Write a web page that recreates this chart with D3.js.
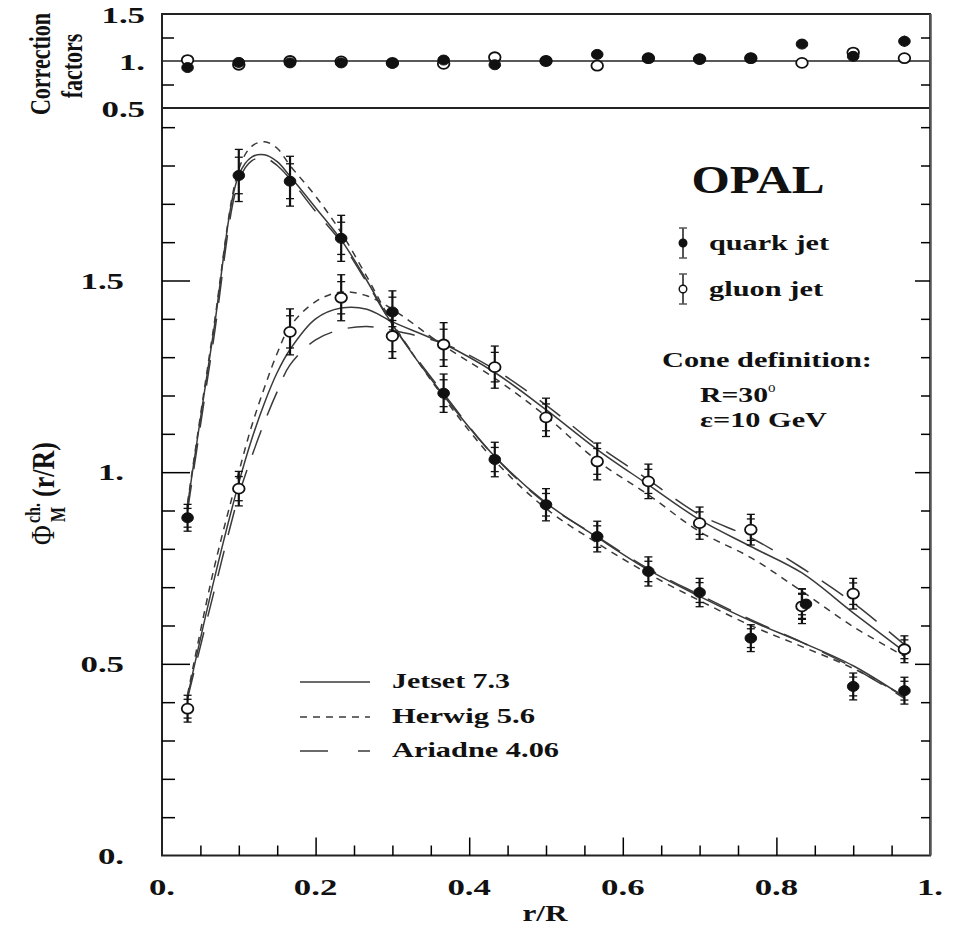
<!DOCTYPE html>
<html>
<head>
<meta charset="utf-8">
<script src="https://cdn.jsdelivr.net/npm/d3@7"></script>
<style>
body { margin: 0; background: #fff; }
text { font-family: "Liberation Serif", "DejaVu Serif", serif; font-weight: bold; fill: #111; }
</style>
</head>
<body>
<div id="chart"></div>
<script>
// bin centres in r/R
var binX = [0.0333, 0.1, 0.1667, 0.2333, 0.3, 0.3667, 0.4333, 0.5, 0.5667, 0.6333, 0.7, 0.7667, 0.8333, 0.9, 0.9667];

// measured points
var quarkVal = [0.881, 1.774, 1.759, 1.610, 1.418, 1.206, 1.033, 0.915, 0.832, 0.741, 0.686, 0.567, 0.656, 0.441, 0.430];
var quarkErr = [0.035, 0.068, 0.065, 0.060, 0.055, 0.050, 0.045, 0.042, 0.040, 0.038, 0.037, 0.035, 0.040, 0.035, 0.035];
var gluonVal = [0.383, 0.957, 1.366, 1.455, 1.355, 1.333, 1.274, 1.143, 1.028, 0.976, 0.867, 0.850, 0.650, 0.683, 0.538];
var gluonErr = [0.035, 0.045, 0.060, 0.060, 0.058, 0.057, 0.055, 0.050, 0.048, 0.045, 0.042, 0.040, 0.045, 0.040, 0.035];

// correction factors (top panel)
var quarkCorr = [0.93, 0.985, 0.98, 0.98, 0.975, 1.01, 0.96, 1.0, 1.07, 1.03, 1.02, 1.03, 1.18, 1.05, 1.21];
var quarkCorrErr = [0, 0, 0, 0, 0, 0, 0, 0, 0, 0, 0, 0, 0.05, 0, 0.06];
var gluonCorr = [1.01, 0.96, 1.0, 0.995, 0.98, 0.97, 1.04, 1.0, 0.95, 1.03, 1.02, 1.03, 0.98, 1.09, 1.03];

// model curves
var curveX = [0.0333, 0.0667, 0.1, 0.1167, 0.1333, 0.15, 0.1667, 0.2, 0.2333, 0.2667, 0.3, 0.3667, 0.4333, 0.5, 0.5667, 0.6333, 0.7, 0.7667, 0.8333, 0.9, 0.9667];
var jetsetQuark  = [0.915, 1.36, 1.775, 1.822, 1.828, 1.81, 1.772, 1.69, 1.606, 1.50, 1.385, 1.20, 1.041, 0.92, 0.83, 0.745, 0.676, 0.612, 0.556, 0.495, 0.413];
var herwigQuark  = [0.92, 1.37, 1.79, 1.85, 1.862, 1.845, 1.80, 1.72, 1.625, 1.51, 1.39, 1.195, 1.03, 0.905, 0.815, 0.735, 0.665, 0.60, 0.545, 0.488, 0.415];
var ariadneQuark = [0.90, 1.34, 1.76, 1.812, 1.82, 1.80, 1.765, 1.68, 1.60, 1.495, 1.385, 1.205, 1.04, 0.918, 0.832, 0.748, 0.68, 0.615, 0.556, 0.49, 0.41];
var jetsetGluon  = [0.415, 0.71, 0.972, 1.085, 1.18, 1.26, 1.32, 1.40, 1.428, 1.425, 1.392, 1.335, 1.26, 1.163, 1.059, 0.967, 0.876, 0.806, 0.737, 0.633, 0.532];
var herwigGluon  = [0.42, 0.74, 1.0, 1.12, 1.22, 1.31, 1.38, 1.445, 1.47, 1.46, 1.425, 1.33, 1.245, 1.146, 1.03, 0.941, 0.845, 0.777, 0.689, 0.597, 0.52];
var ariadneGluon = [0.41, 0.68, 0.94, 1.04, 1.13, 1.21, 1.28, 1.345, 1.372, 1.38, 1.37, 1.335, 1.268, 1.175, 1.07, 0.98, 0.889, 0.829, 0.75, 0.659, 0.55];

var models = ["Jetset 7.3", "Herwig 5.6", "Ariadne 4.06"];
var dashes = [null, "7,6", "26,16"];

var width = 959, height = 929;
var svg = d3.select("#chart").append("svg")
    .attr("width", width)
    .attr("height", height);

var x = d3.scaleLinear().domain([0, 1]).range([162, 930]);
var y = d3.scaleLinear().domain([0, 1.95]).range([855.5, 108]);
var yc = d3.scaleLinear().domain([0.5, 1.5]).range([108, 14]);

function fmt(d) {
    return Math.abs(d % 1) < 1e-9 ? d3.format(".0f")(d) + "." : d3.format(".1f")(d);
}

// widen glyphs like in the scanned figure
function stretch(sel, k) {
    sel.each(function () {
        var w = this.getComputedTextLength();
        d3.select(this).attr("textLength", w * k).attr("lengthAdjust", "spacingAndGlyphs");
    });
}

//Model curves
var line = d3.line()
    .x(function (d) { return x(d[0]); })
    .y(function (d) { return y(d[1]); })
    .curve(d3.curveCatmullRom.alpha(0.5));

var curveSets = [
    [jetsetQuark, herwigQuark, ariadneQuark],
    [jetsetGluon, herwigGluon, ariadneGluon]
];
curveSets.forEach(function (set) {
    set.forEach(function (vals, i) {
        svg.append("path")
            .attr("d", line(curveX.map(function (c, j) { return [c, vals[j]]; })))
            .attr("fill", "none")
            .attr("stroke", "#3a3a3a")
            .attr("stroke-width", 1.5)
            .attr("stroke-dasharray", dashes[i]);
    });
});

//Error bars: outer caps at total error, inner caps at a smaller stat error
function errorBars(vals, errs, dx) {
    var g = svg.append("g").attr("stroke", "#111");
    binX.forEach(function (bx, i) {
        var cx = x(bx) + dx, v = vals[i], e = errs[i];
        g.append("line").attr("x1", cx).attr("x2", cx)
            .attr("y1", y(v - e)).attr("y2", y(v + e)).attr("stroke-width", 2.2);
        [v - e, v + e, v - e * 0.7, v + e * 0.7].forEach(function (t) {
            g.append("line").attr("x1", cx - 4).attr("x2", cx + 4)
                .attr("y1", y(t)).attr("y2", y(t)).attr("stroke-width", 1.3);
        });
    });
}
errorBars(gluonVal, gluonErr, 0);
errorBars(quarkVal, quarkErr, 0);

function points(vals, xs, ys, filled, dx) {
    svg.append("g").selectAll("ellipse")
        .data(vals)
        .enter()
        .append("ellipse")
        .attr("cx", function (d, i) { return xs(binX[i]) + (dx ? dx[i] : 0); })
        .attr("cy", function (d) { return ys(d); })
        .attr("rx", 5.8)
        .attr("ry", 5)
        .attr("fill", filled ? "#111" : "#fff")
        .attr("stroke", "#111")
        .attr("stroke-width", filled ? 1 : 1.8);
}
var quarkShift = binX.map(function (d, i) { return i === 12 ? 4 : 0; });
points(gluonVal, x, y, false, null);
points(quarkVal, x, y, true, quarkShift);

//Top panel: correction factors
svg.append("line")
    .attr("x1", x(0)).attr("x2", x(1))
    .attr("y1", yc(1)).attr("y2", yc(1))
    .attr("stroke", "#222").attr("stroke-width", 1.6);
binX.forEach(function (bx, i) {
    if (quarkCorrErr[i] > 0) {
        svg.append("line")
            .attr("x1", x(bx)).attr("x2", x(bx))
            .attr("y1", yc(quarkCorr[i] - quarkCorrErr[i]))
            .attr("y2", yc(quarkCorr[i] + quarkCorrErr[i]))
            .attr("stroke", "#111").attr("stroke-width", 1.5);
    }
});
points(gluonCorr, x, yc, false, null);
points(quarkCorr, x, yc, true, null);

//Frames
svg.append("rect")
    .attr("x", x(0)).attr("y", yc(1.5))
    .attr("width", x(1) - x(0)).attr("height", yc(0.5) - yc(1.5))
    .attr("fill", "none").attr("stroke", "#222").attr("stroke-width", 2);
svg.append("rect")
    .attr("x", x(0)).attr("y", y(1.95))
    .attr("width", x(1) - x(0)).attr("height", y(0) - y(1.95))
    .attr("fill", "none").attr("stroke", "#222").attr("stroke-width", 2);
svg.append("line")
    .attr("x1", x(1) + 0.5).attr("x2", x(1) + 0.5)
    .attr("y1", yc(1.5)).attr("y2", y(0))
    .attr("stroke", "#555").attr("stroke-width", 2.5);

//Ticks
var yMinor = d3.range(0, 20).map(function (i) { return i / 10; });
function isMajor(d) { return Math.abs(d * 2 - Math.round(d * 2)) < 1e-6; }

var leftAx = svg.append("g")
    .attr("transform", "translate(" + x(0) + ",0)")
    .call(d3.axisRight(y).tickValues(yMinor.slice(1)).tickSize(13).tickFormat(""));
leftAx.select(".domain").remove();
leftAx.selectAll(".tick line").attr("x2", function (d) { return isMajor(d) ? 28 : 13; }).attr("stroke-width", 1.5);

var rightAx = svg.append("g")
    .attr("transform", "translate(" + x(1) + ",0)")
    .call(d3.axisLeft(y).tickValues(yMinor.slice(1)).tickSize(9).tickFormat(""));
rightAx.select(".domain").remove();
rightAx.selectAll(".tick line").attr("x2", function (d) { return isMajor(d) ? -15 : -9; }).attr("stroke-width", 1.5);

var xMinor = d3.range(1, 20).map(function (i) { return i / 20; });
var botAx = svg.append("g")
    .attr("transform", "translate(0," + y(0) + ")")
    .call(d3.axisTop(x).tickValues(xMinor).tickSize(10).tickFormat(""));
botAx.select(".domain").remove();
botAx.selectAll(".tick line").attr("y2", function (d) { return Math.abs(d * 5 - Math.round(d * 5)) < 1e-6 ? -18 : -10; }).attr("stroke-width", 1.5);

[[x(0), 12], [x(1), -9]].forEach(function (s) {
    var g = svg.append("g")
        .attr("transform", "translate(" + s[0] + ",0)")
        .call((s[1] > 0 ? d3.axisRight(yc) : d3.axisLeft(yc)).tickValues([0.75, 1.25]).tickSize(Math.abs(s[1])).tickFormat(""));
    g.select(".domain").remove();
    g.selectAll(".tick line").attr("stroke-width", 1.5);
});

//Tick labels
var yLab = svg.append("g").selectAll("text")
    .data([0, 0.5, 1, 1.5])
    .enter().append("text")
    .attr("x", 124)
    .attr("y", function (d) { return y(d) + 8; })
    .attr("text-anchor", "end")
    .style("font-size", "24px")
    .text(fmt);
stretch(yLab, 1.45);

var ycLab = svg.append("g").selectAll("text")
    .data([0.5, 1, 1.5])
    .enter().append("text")
    .attr("x", 145)
    .attr("y", function (d) { return yc(d) + 9; })
    .attr("text-anchor", "end")
    .style("font-size", "24px")
    .text(fmt);
stretch(ycLab, 1.45);

var xLab = svg.append("g").selectAll("text")
    .data([0, 0.2, 0.4, 0.6, 0.8, 1])
    .enter().append("text")
    .attr("x", function (d) { return x(d); })
    .attr("y", 895)
    .attr("text-anchor", "middle")
    .style("font-size", "24px")
    .text(fmt);
stretch(xLab, 1.45);

var xTitle = svg.append("text")
    .attr("x", 545).attr("y", 921)
    .attr("text-anchor", "middle")
    .style("font-size", "24px")
    .text("r/R");
stretch(xTitle, 1.3);

//Axis titles (rotated, then widened like the scan)
svg.append("text")
    .attr("transform", "translate(50,64) scale(1.3,1) rotate(-90)")
    .attr("text-anchor", "middle")
    .style("font-size", "22px")
    .text("Correction");
svg.append("text")
    .attr("transform", "translate(82,66) scale(1.3,1) rotate(-90)")
    .attr("text-anchor", "middle")
    .style("font-size", "22px")
    .text("factors");

var yl = svg.append("g").attr("transform", "translate(54,470) scale(1.25,1) rotate(-90)");
yl.append("text").attr("x", -75).attr("y", 0).style("font-size", "27px").style("font-weight", "normal").text("Φ");
yl.append("text").attr("x", -53).attr("y", -11).style("font-size", "16px").text("ch.");
yl.append("text").attr("x", -52).attr("y", 9).style("font-size", "16px").text("M");
yl.append("text").attr("x", -27).attr("y", 0).style("font-size", "26px").text("(r/R)");

//OPAL label and legends
var opal = svg.append("text")
    .attr("x", 758).attr("y", 193)
    .attr("text-anchor", "middle")
    .style("font-size", "41px")
    .text("OPAL");
opal.attr("textLength", 133).attr("lengthAdjust", "spacingAndGlyphs");

var legPts = [
    {label: "quark jet", y: 243, filled: true},
    {label: "gluon jet", y: 289, filled: false}
];
legPts.forEach(function (d) {
    var g = svg.append("g");
    g.append("line").attr("x1", 683).attr("x2", 683).attr("y1", d.y - 15).attr("y2", d.y + 15)
        .attr("stroke", "#555").attr("stroke-width", 2);
    [-15, 15].forEach(function (o) {
        g.append("line").attr("x1", 679).attr("x2", 687).attr("y1", d.y + o).attr("y2", d.y + o)
            .attr("stroke", "#555").attr("stroke-width", 1.5);
    });
    g.append("circle").attr("cx", 683).attr("cy", d.y).attr("r", 3.8)
        .attr("fill", d.filled ? "#111" : "#fff").attr("stroke", "#111").attr("stroke-width", 1.4);
    g.append("text").attr("x", 709).attr("y", d.y + 7).style("font-size", "22px").text(d.label)
        .attr("textLength", d.filled ? 120 : 114).attr("lengthAdjust", "spacingAndGlyphs");
});

svg.append("text").attr("x", 662).attr("y", 367).style("font-size", "22px")
    .text("Cone definition:").attr("textLength", 210).attr("lengthAdjust", "spacingAndGlyphs");
var rt = svg.append("text").attr("x", 700).attr("y", 402).style("font-size", "22px");
rt.append("tspan").text("R=30").attr("textLength", 68).attr("lengthAdjust", "spacingAndGlyphs");
rt.append("tspan").attr("dy", -10).style("font-size", "15px").style("font-weight", "normal").text("o");
svg.append("text").attr("x", 700).attr("y", 427).style("font-size", "22px")
    .text("ε=10 GeV").attr("textLength", 127).attr("lengthAdjust", "spacingAndGlyphs");

var legLines = [
    {y: 682, ty: 688, w: 118},
    {y: 717, ty: 723, w: 143},
    {y: 751, ty: 757, w: 167}
];
legLines.forEach(function (d, i) {
    svg.append("line")
        .attr("x1", 300).attr("x2", 370)
        .attr("y1", d.y).attr("y2", d.y)
        .attr("stroke", "#3a3a3a").attr("stroke-width", 1.5)
        .attr("stroke-dasharray", i === 2 ? "28,30" : dashes[i]);
    svg.append("text").attr("x", 392).attr("y", d.ty).style("font-size", "22px")
        .text(models[i]).attr("textLength", d.w).attr("lengthAdjust", "spacingAndGlyphs");
});
</script>
</body>
</html>
